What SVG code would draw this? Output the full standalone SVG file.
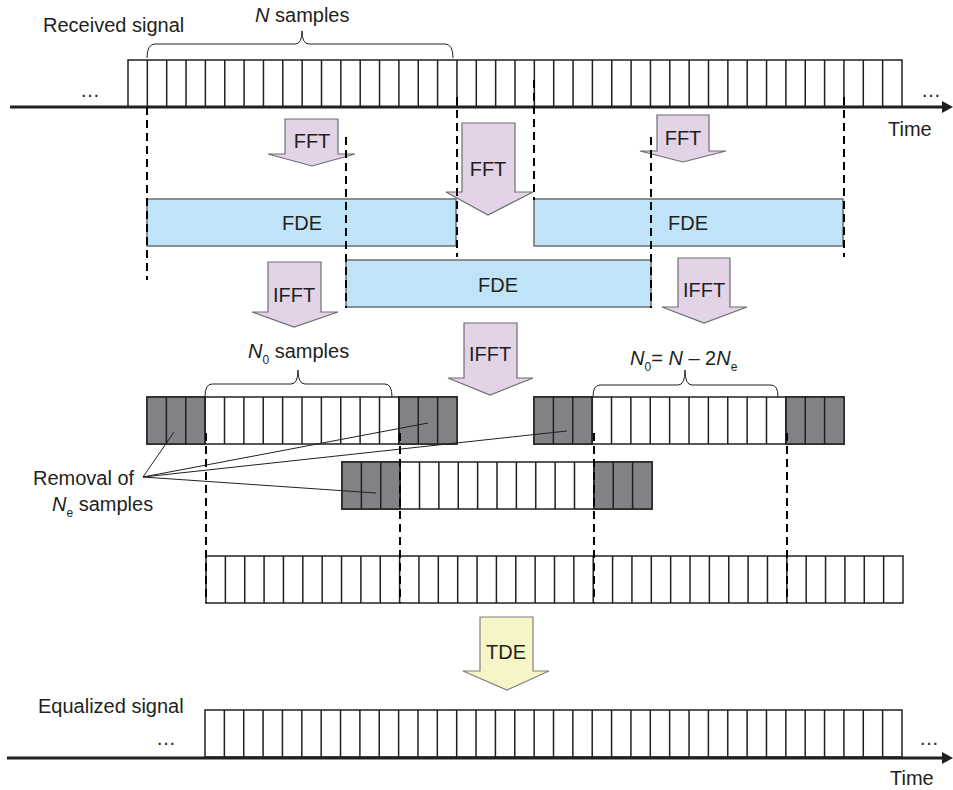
<svg xmlns="http://www.w3.org/2000/svg" xmlns:xlink="http://www.w3.org/1999/xlink" width="953" height="790" viewBox="0 0 953 790">
<style>
text{font-family:"Liberation Sans",Arial,sans-serif;font-size:20px;fill:#231f20}
.it{font-style:italic}
.sub{font-size:12px}
.cell{fill:#fff;stroke:#231f20;stroke-width:1.5}
.dark{fill:#808285;stroke:#231f20;stroke-width:1.5}
.ln{fill:none;stroke:#231f20;stroke-width:1.5}
.axis{stroke:#231f20;stroke-width:3}
.dash{fill:none;stroke:#000;stroke-width:2;stroke-dasharray:8 5}
.fde{fill:#bfe4f7;stroke:#6d6e71;stroke-width:1.5}
.arr{fill:#e2d3e6;stroke:#6d6e71;stroke-width:1.2}
.tde{fill:#f5f5c8;stroke:#808080;stroke-width:1.2}
.thin{fill:none;stroke:#231f20;stroke-width:1}
.mid{text-anchor:middle}
</style>
<defs>
<g id="cells36">
<rect class="cell" x="0" y="0" width="697" height="47"/>
<path class="ln" d="M19.36,0V47M38.72,0V47M58.08,0V47M77.44,0V47M96.81,0V47M116.17,0V47M135.53,0V47M154.89,0V47M174.25,0V47M193.61,0V47M212.97,0V47M232.33,0V47M251.69,0V47M271.05,0V47M290.42,0V47M309.78,0V47M329.14,0V47M348.5,0V47M367.86,0V47M387.22,0V47M406.58,0V47M425.94,0V47M445.3,0V47M464.66,0V47M484.03,0V47M503.39,0V47M522.75,0V47M542.11,0V47M561.47,0V47M580.83,0V47M600.19,0V47M619.55,0V47M638.91,0V47M658.27,0V47M677.64,0V47"/>
</g>
<g id="block16">
<rect class="cell" x="0" y="0" width="310" height="47"/>
<rect class="dark" x="0" y="0" width="58.125" height="47"/>
<rect class="dark" x="251.875" y="0" width="58.125" height="47"/>
<path class="ln" d="M19.375,0V47M38.75,0V47M58.125,0V47M77.5,0V47M96.875,0V47M116.25,0V47M135.625,0V47M155,0V47M174.375,0V47M193.75,0V47M213.125,0V47M232.5,0V47M251.875,0V47M271.25,0V47M290.625,0V47"/>
</g>
</defs>
<rect width="953" height="790" fill="#fff"/>

<g id="received-signal">
<text x="43" y="32">Received signal</text>
<text x="80" y="97">…</text>
<text x="921" y="97">…</text>
<rect class="cell" x="128" y="60" width="774" height="47"/>
<path class="ln" d="M147.35,60V107M166.7,60V107M186.05,60V107M205.4,60V107M224.75,60V107M244.1,60V107M263.45,60V107M282.8,60V107M302.15,60V107M321.5,60V107M340.85,60V107M360.2,60V107M379.55,60V107M398.9,60V107M418.25,60V107M437.6,60V107M456.95,60V107M476.3,60V107M495.65,60V107M515,60V107M534.35,60V107M553.7,60V107M573.05,60V107M592.4,60V107M611.75,60V107M631.1,60V107M650.45,60V107M669.8,60V107M689.15,60V107M708.5,60V107M727.85,60V107M747.2,60V107M766.55,60V107M785.9,60V107M805.25,60V107M824.6,60V107M843.95,60V107M863.3,60V107M882.65,60V107"/>
<line class="axis" x1="10" y1="107" x2="944" y2="107"/>
<polygon points="953,107 942,101 942,113" fill="#231f20"/>
<text x="888" y="136">Time</text>
</g>

<g id="n-samples">
<path class="thin" d="M147,58 Q147,44 155,44 L295,44 Q302,44 302,31 Q302,44 309,44 L445,44 Q453,44 453,58"/>
<text x="255" y="22"><tspan class="it">N</tspan> samples</text>
</g>

<g id="fde-1"><rect class="fde" x="147" y="199" width="309" height="47"/><text class="mid" x="302" y="230">FDE</text></g>
<g id="fde-2"><rect class="fde" x="346" y="260" width="305" height="47"/><text class="mid" x="498" y="292">FDE</text></g>
<g id="fde-3"><rect class="fde" x="534" y="199" width="309" height="47"/><text class="mid" x="688" y="230">FDE</text></g>

<g id="fft-1"><polygon class="arr" points="285,119 338,119 338,154 355,154 312,166 268,154 285,154"/><text class="mid" x="312" y="148">FFT</text></g>
<g id="fft-2"><polygon class="arr" points="462,123 515,123 515,192 533,192 488,215 446,192 462,192"/><text class="mid" x="488" y="176">FFT</text></g>
<g id="fft-3"><polygon class="arr" points="657,115 709,115 709,151 726,151 683,162 640,151 657,151"/><text class="mid" x="683" y="145">FFT</text></g>
<g id="ifft-1"><polygon class="arr" points="268,262 321,262 321,312 338,312 294,327 252,312 268,312"/><text class="mid" x="294" y="302">IFFT</text></g>
<g id="ifft-2"><polygon class="arr" points="464,323 517,323 517,378 533,378 490,395 448,378 464,378"/><text class="mid" x="490" y="361">IFFT</text></g>
<g id="ifft-3"><polygon class="arr" points="678,258 730,258 730,307 747,307 704,323 662,307 678,307"/><text class="mid" x="704" y="297">IFFT</text></g>

<g id="n0-label">
<path class="thin" d="M205,397 Q205,384 212,384 L291,384 Q298,384 298,370 Q298,384 305,384 L385,384 Q392,384 392,397"/>
<text x="248" y="358"><tspan class="it">N</tspan><tspan class="sub" dy="6">0</tspan><tspan dy="-6"> samples</tspan></text>
</g>
<g id="n0-formula">
<path class="thin" d="M593,397 Q593,385 600,385 L678,385 Q685,385 685,370 Q685,385 692,385 L771,385 Q778,385 778,397"/>
<text x="630" y="365"><tspan class="it">N</tspan><tspan class="sub" dy="6">0</tspan><tspan dy="-6">= </tspan><tspan class="it">N</tspan> – 2<tspan class="it">N</tspan><tspan class="sub" dy="6">e</tspan></text>
</g>

<g id="block-1"><use href="#block16" x="147" y="397"/></g>
<g id="block-3"><use href="#block16" x="534" y="397"/></g>
<g id="block-2"><use href="#block16" x="342" y="462"/></g>

<g id="combined"><use href="#cells36" x="206" y="556"/></g>

<g id="removal-label">
<text x="33" y="485">Removal of</text>
<text x="52" y="511"><tspan class="it">N</tspan><tspan class="sub" dy="6">e</tspan><tspan dy="-6"> samples</tspan></text>
</g>

<g id="tde"><polygon class="tde" points="480,617 533,617 533,671 549,671 507,690 463,671 480,671"/><text class="mid" x="506" y="659">TDE</text></g>

<g id="equalized-signal">
<text x="38" y="713">Equalized signal</text>
<text x="156" y="745">…</text>
<text x="919" y="745">…</text>
<use href="#cells36" x="205" y="710"/>
<line class="axis" x1="7" y1="758" x2="944" y2="758"/>
<polygon points="953,758 942,752 942,764" fill="#231f20"/>
<text x="890" y="785">Time</text>
</g>

<g id="connectors">
<path class="dash" d="M147,107V280M457,97V257M534,80V200M844,97V257M346,137V308M651,137V308"/>
<path class="dash" d="M206,433V603M400,433V603M594,433V603M787,433V603"/>
<path class="thin" d="M143,477L174,432M143,477L428,423M143,477L567,431M143,477L376,493"/>
</g>
</svg>
